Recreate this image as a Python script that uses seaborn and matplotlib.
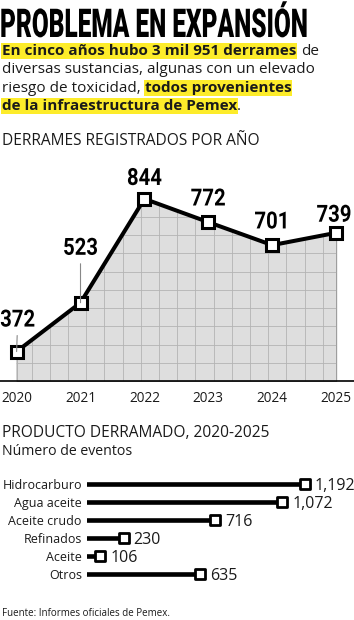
import numpy as np
import seaborn as sns
import matplotlib.pyplot as plt
from matplotlib.patheffects import AbstractPathEffect
from matplotlib.transforms import Affine2D

sns.set_style('white')
plt.rcParams['font.family'] = ['Open Sans', 'DejaVu Sans']

# datos
years = [2020, 2021, 2022, 2023, 2024, 2025]
spills = [372, 523, 844, 772, 701, 739]
label_shift = [(0.8, 18), (0, 34.5), (0, 10), (0, 12), (0, 12), (-1.5, 8)]  # pts
products = ['Hidrocarburo', 'Agua aceite', 'Aceite crudo', 'Refinados', 'Aceite', 'Otros']
events = [1192, 1072, 716, 230, 106, 635]
event_labels = ['1,192', '1,072', '716', '230', '106', '635']

W, H = 354, 620
YELLOW = '#fdec2a'
INK = '#1a1a1a'
HEAVY = ['Roboto', 'DejaVu Sans']


class Squeeze(AbstractPathEffect):
    # squeeze glyphs horizontally (condensed headline look)
    def __init__(self, sx, center=False):
        super().__init__()
        self.sx = sx
        self.center = center

    def draw_path(self, renderer, gc, tpath, affine, rgbFace=None):
        cx = 0
        if self.center:
            ext = tpath.get_extents()
            cx = (ext.x0 + ext.x1) / 2
        pre = Affine2D().translate(-cx, 0).scale(self.sx, 1).translate(cx, 0)
        renderer.draw_path(gc, tpath, pre + affine, rgbFace)


def fx(px):
    return px / W


def fy(px):
    return 1 - px / H


fig = plt.figure(figsize=(W / 100, H / 100), dpi=100)
rend = fig.canvas.get_renderer()

# title
title = fig.text(fx(0), fy(37), 'PROBLEMA EN EXPANSIÓN', family=HEAVY,
                 fontweight='black', fontsize=28.6, va='baseline', color='black')
tw = title.get_window_extent(rend).width
title.set_path_effects([Squeeze(308 / tw)])

# intro with highlighted bits
intro = [
    [('En cinco años hubo 3 mil 951 derrames', True), ('de', False)],
    [('diversas sustancias, algunas con un elevado', False)],
    [('riesgo de toxicidad,', False), ('todos provenientes', True)],
    [('de la infraestructura de Pemex', True), ('.', False)],
]
for i, parts in enumerate(intro):
    x = 2
    for txt, bold in parts:
        if x > 2 and txt != '.':
            x += 4.3
        t = fig.text(fx(x), fy(55 + 18.4 * i), txt, fontsize=11.0, color=INK,
                     fontweight='bold' if bold else 'normal', va='baseline')
        if bold:
            t.set_bbox(dict(boxstyle='square,pad=0.05', fc=YELLOW, ec='none'))
        x += t.get_window_extent(rend).width

fig.text(fx(2), fy(145), 'DERRAMES REGISTRADOS POR AÑO', fontsize=11.2,
         color=INK, va='baseline')

# --- line chart ---
ax = fig.add_axes([0, fy(381), 1, (381 - 150) / H])
ax.set_xlim(2019.74, 2025.28)
ax.set_ylim(281, 995)

poly = ax.fill_between(years, spills, 281, facecolor='#dedede',
                       edgecolor='#9a9a9a', lw=0.8, zorder=1)
gx = np.arange(2020.235, 2025, 0.2848)
gy = np.arange(281 + 56.3, 995, 56.3)
vl = ax.vlines(gx, 281, 995, color='#b4b4b4', lw=0.6, zorder=1.5)
hl = ax.hlines(gy, 2019.7, 2025.3, color='#b4b4b4', lw=0.6, zorder=1.5)
for c in (vl, hl):
    c.set_clip_path(poly.get_paths()[0], ax.transData)

sns.lineplot(x=years, y=spills, color='black', lw=2.9, marker='s', ms=8.5,
             mfc='white', mec='black', mew=2.2, zorder=3, ax=ax)

for i, (yr, v) in enumerate(zip(years, spills)):
    arrow = None
    if i < 2:
        arrow = dict(arrowstyle='-', color='#888888', lw=0.8, shrinkA=0.5, shrinkB=0)
    lab = ax.annotate(str(v), (yr, v), xytext=label_shift[i], textcoords='offset points',
                      ha='center', va='baseline', family=HEAVY, fontweight='bold',
                      fontsize=17, color='black', arrowprops=arrow, zorder=4)
    lab.set_path_effects([Squeeze(0.86, center=True)])

ax.set_xticks(years)
ax.set_xticklabels([str(y) for y in years], fontsize=9.8, color=INK)
ax.set_yticks([])
ax.tick_params(axis='x', length=0, pad=7)
for s in ['top', 'left', 'right']:
    ax.spines[s].set_visible(False)
ax.spines['bottom'].set_color('black')
ax.spines['bottom'].set_linewidth(1.2)
ax.set_facecolor('none')

# --- lollipop chart ---
fig.text(fx(2), fy(437), 'PRODUCTO DERRAMADO, 2020-2025', fontsize=11.2,
         color=INK, va='baseline')
fig.text(fx(2), fy(455), 'Número de eventos', fontsize=10.2, color=INK, va='baseline')

bx = fig.add_axes([fx(87), fy(583), fx(354 - 87), 108 / H])
sns.barplot(x=events, y=products, orient='h', color='black', saturation=1,
            width=0.28, zorder=2, ax=bx)
sns.scatterplot(x=events, y=products, marker='s', s=55, color='white',
                edgecolor='black', linewidth=2.0, zorder=3, ax=bx)
for i, (v, lab) in enumerate(zip(events, event_labels)):
    bx.annotate(lab, (v, i), xytext=(7, 0), textcoords='offset points',
                va='center_baseline', fontsize=11.5, color=INK)

bx.set_xlim(34.5, 1452)
bx.set_ylim(5.5, -0.5)
bx.set_xticks([])
bx.set_xlabel('')
bx.set_ylabel('')
bx.tick_params(axis='y', length=0, pad=3.7, labelsize=9, labelcolor=INK)
for s in bx.spines.values():
    s.set_visible(False)
bx.set_facecolor('none')

fig.text(fx(2), fy(616), 'Fuente: Informes oficiales de Pemex.', fontsize=7,
         color=INK, va='baseline')

fig.savefig('out.png', dpi=100)
